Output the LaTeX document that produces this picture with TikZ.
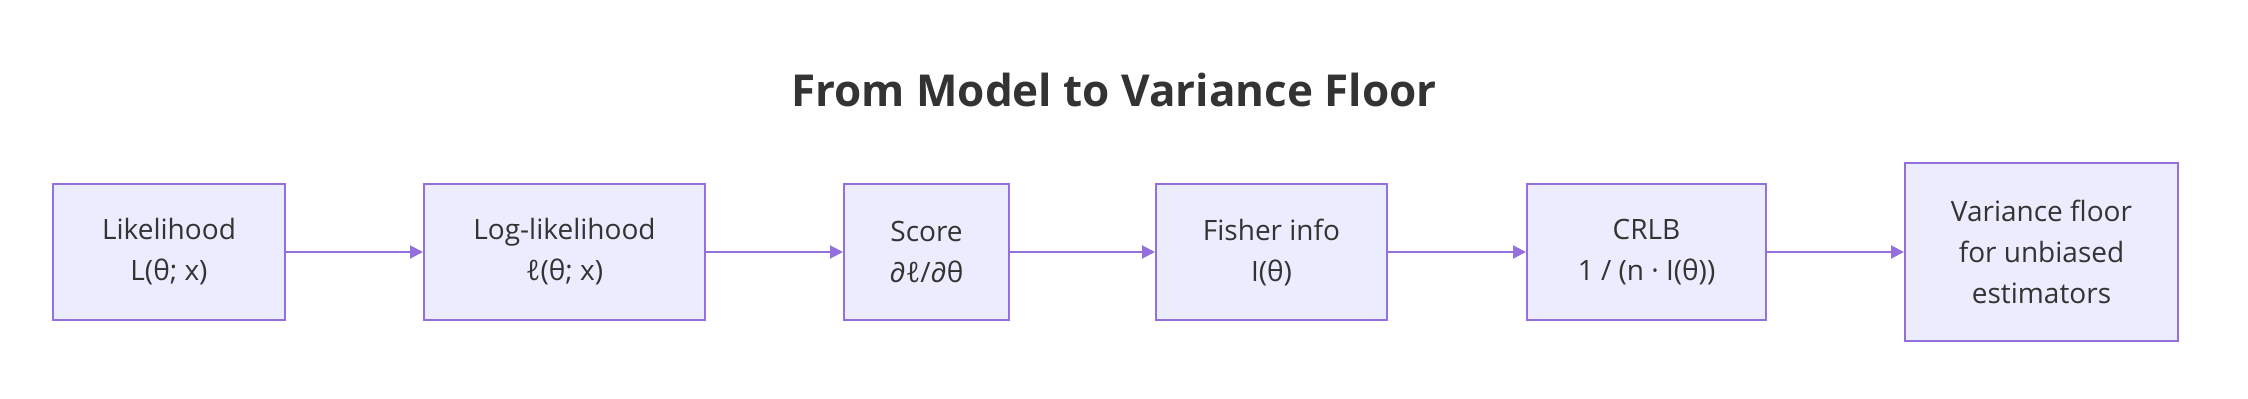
\documentclass[tikz,border=0pt]{standalone}
\usepackage{fontspec}
\setmainfont{Open Sans}
\usetikzlibrary{arrows.meta}
\definecolor{boxfill}{HTML}{ECECFF}
\definecolor{boxline}{HTML}{9370DB}
\definecolor{txt}{HTML}{333333}
\tikzset{
  stage/.style={draw=boxline, fill=boxfill, line width=1pt, text=txt, align=center,
    minimum height=68pt, inner sep=0pt, font=\fontsize{14}{20.5}\selectfont},
  link/.style={->, draw=boxline, line width=1pt},
  >={Triangle[length=6.5pt,width=6.5pt]}
}
\begin{document}
\begin{tikzpicture}[x=0.5pt,y=-0.5pt]
  \useasboundingbox (0,0) rectangle (2248,398);
  \node[anchor=base, text=txt, font=\bfseries\fontsize{22}{26}\selectfont] (title) at (1114,106) {From Model to Variance Floor};
  \node[stage, minimum width=116pt] (lik) at (169,252) {Likelihood\\L(θ; x)};
  \node[stage, minimum width=140.5pt] (loglik) at (564.5,252) {Log-likelihood\\ℓ(θ; x)};
  \node[stage, minimum width=82.5pt] (score) at (926.5,252) {Score\\∂ℓ/∂θ};
  \node[stage, minimum width=115.5pt] (fisher) at (1271.5,252) {Fisher info\\I(θ)};
  \node[stage, minimum width=119.5pt] (crlb) at (1646.5,252) {CRLB\\1 / (n · I(θ))};
  \node[stage, minimum width=136.5pt, minimum height=89pt] (floor) at (2041.5,252) {Variance floor\\for unbiased\\estimators};
  \draw[link] (lik) -- (loglik);
  \draw[link] (loglik) -- (score);
  \draw[link] (score) -- (fisher);
  \draw[link] (fisher) -- (crlb);
  \draw[link] (crlb) -- (floor);
\end{tikzpicture}
\end{document}
